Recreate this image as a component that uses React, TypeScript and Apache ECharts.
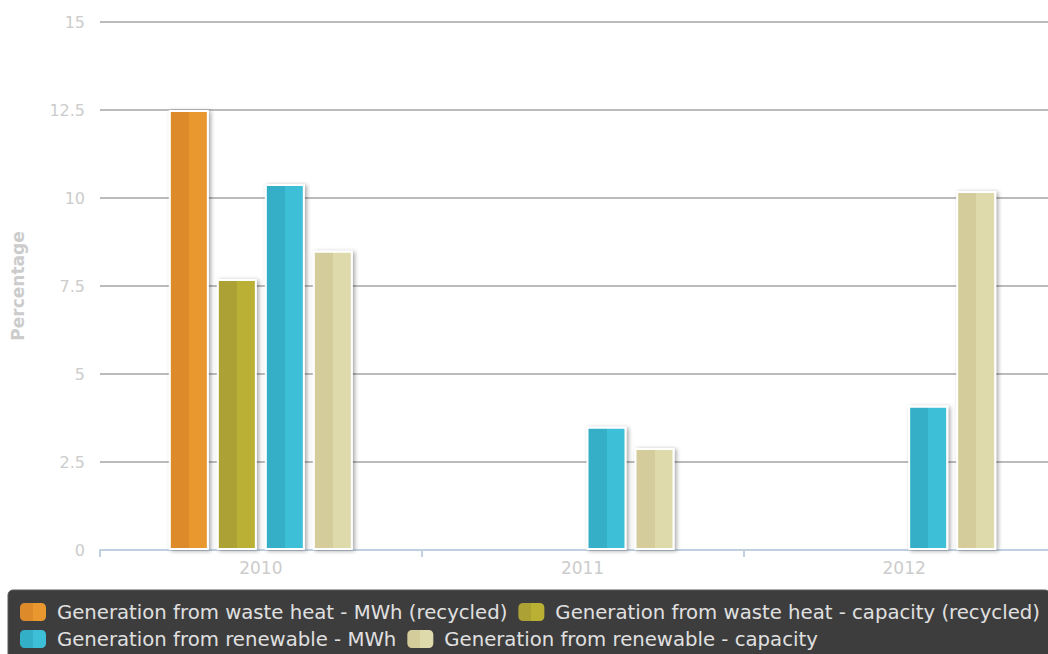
import React, { useEffect, useRef } from "react";
import * as echarts from "echarts";

// Chart data
const categories = ["2010", "2011", "2012"];
const wasteHeatMWh: (number | null)[] = [12.5, null, null];
const wasteHeatCapacity: (number | null)[] = [7.7, null, null];
const renewableMWh: (number | null)[] = [10.4, 3.5, 4.1];
const renewableCapacity: (number | null)[] = [8.5, 2.9, 10.2];

const seriesNames = [
  "Generation from waste heat - MWh (recycled)",
  "Generation from waste heat - capacity (recycled)",
  "Generation from renewable - MWh",
  "Generation from renewable - capacity",
];

// two-tone fills: darker left half, lighter right half
const palette: [string, string][] = [
  ["#DC8A2A", "#E8982F"],
  ["#ACA135", "#BAB034"],
  ["#34AFC8", "#3EBFD8"],
  ["#D4CD9B", "#DFDAAB"],
];

const twoTone = (dark: string, light: string) =>
  new echarts.graphic.LinearGradient(1, 0, 0, 0, [
    { offset: 0, color: light },
    { offset: 0.5, color: light },
    { offset: 0.5, color: dark },
    { offset: 1, color: dark },
  ]);

const FONT = "DejaVu Sans";

export default function App() {
  const ref = useRef<HTMLDivElement>(null);

  useEffect(() => {
    if (!ref.current) return;
    const chart = echarts.init(ref.current, undefined, { renderer: "svg" });
    const datasets = [wasteHeatMWh, wasteHeatCapacity, renewableMWh, renewableCapacity];

    chart.setOption({
      animation: false,
      backgroundColor: "#ffffff",
      grid: {
        left: 100,
        top: 22,
        width: 965,
        bottom: 104,
        containLabel: false,
        outerBoundsMode: "none",
      },
      legend: {
        left: 8,
        top: 590,
        width: 1028,
        orient: "horizontal",
        backgroundColor: "#3d3d3d",
        borderColor: "#5a5a5a",
        borderWidth: 1,
        borderRadius: 5,
        padding: [12, 6, 12, 12],
        itemGap: 7,
        itemWidth: 26,
        itemHeight: 18,
        icon: "roundRect",
        itemStyle: { borderWidth: 0, shadowBlur: 0, shadowOffsetX: 0, shadowOffsetY: 0 },
        textStyle: {
          color: "#e0e0e0",
          fontFamily: FONT,
          fontSize: 19.7,
          lineHeight: 18,
          padding: [0, 4, 0, 6],
        },
        data: seriesNames,
      },
      xAxis: {
        type: "category",
        data: categories,
        axisLine: { show: true, lineStyle: { color: "#c0d0e0", width: 2 } },
        axisTick: { show: true, length: 7, lineStyle: { color: "#c0d0e0", width: 2 } },
        axisLabel: { color: "#cccccc", fontFamily: FONT, fontSize: 17, margin: 9 },
        splitLine: { show: false },
      },
      yAxis: {
        type: "value",
        min: 0,
        max: 15,
        interval: 2.5,
        name: "Percentage",
        nameLocation: "middle",
        nameRotate: 90,
        nameGap: 74,
        nameTextStyle: { color: "#cccccc", fontFamily: FONT, fontSize: 17, fontWeight: "bold" },
        axisLine: { show: false },
        axisTick: { show: false },
        axisLabel: { color: "#cccccc", fontFamily: FONT, fontSize: 16, margin: 15 },
        splitLine: { show: true, lineStyle: { color: "#bbbbbb", width: 2 } },
      },
      series: datasets.map((data, i) => ({
        name: seriesNames[i],
        type: "bar",
        data,
        barWidth: 40,
        barGap: "20%",
        itemStyle: {
          color: twoTone(palette[i][0], palette[i][1]),
          borderColor: "#ffffff",
          borderWidth: 2,
          shadowBlur: 4,
          shadowOffsetX: 2,
          shadowOffsetY: 1,
          shadowColor: "rgba(0,0,0,0.35)",
        },
      })),
    });

    return () => chart.dispose();
  }, []);

  return (
    <div
      ref={ref}
      style={{ position: "fixed", left: 0, top: 0, width: 1048, height: 654 }}
    />
  );
}
